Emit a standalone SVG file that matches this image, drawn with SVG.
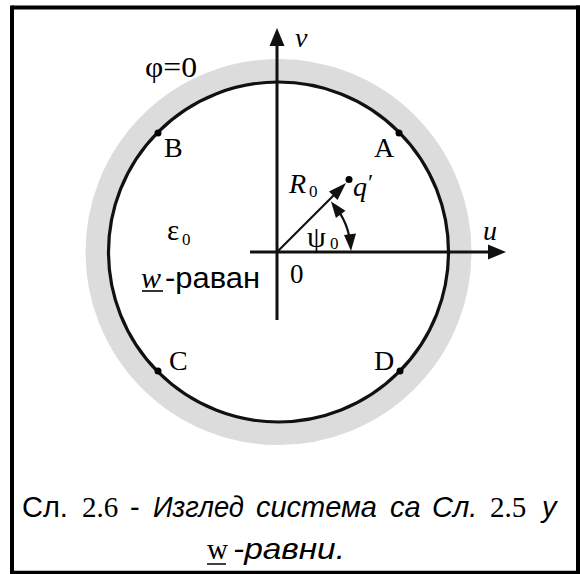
<svg xmlns="http://www.w3.org/2000/svg" width="580" height="574" viewBox="0 0 580 574">
<style>
.serif{font-family:"Liberation Serif","Times New Roman",serif;fill:#000}
.sans{font-family:"Liberation Sans",Arial,sans-serif;fill:#000}
.it{font-style:italic}
.ax{stroke:#111;stroke-width:3;fill:none}
.dot{fill:#000}
.lbl{font-size:28px}
</style>
<rect x="0" y="0" width="580" height="574" fill="#fff"/>
<g id="frame" fill="none" stroke="#000">
<line x1="12" y1="7.5" x2="580" y2="7.5" stroke-width="4"/>
<line x1="12" y1="5.5" x2="12" y2="574" stroke-width="4"/>
<line x1="578" y1="5.5" x2="578" y2="574" stroke-width="4"/>
<line x1="10" y1="572.5" x2="580" y2="572.5" stroke-width="3.5"/>
</g>
<g id="ring">
<circle cx="278.5" cy="252" r="181.5" fill="none" stroke="#dcdcdc" stroke-width="23"/>
<circle cx="278.5" cy="252" r="170" fill="none" stroke="#111" stroke-width="3.2"/>
</g>
<g id="connectors">
<line class="ax" x1="250" y1="252" x2="490" y2="252"/>
<polygon points="506,252 488,244.5 488,259.5" fill="#111"/>
<line class="ax" x1="277" y1="320" x2="277" y2="44"/>
<polygon points="277,28 269.5,46 284.5,46" fill="#111"/>
<line x1="277" y1="252" x2="336" y2="193" stroke="#111" stroke-width="2.2"/>
<polygon points="346,183 337.5,199.9 329,191.5" fill="#111"/>
<path d="M340.4,213.9 A74,74 0 0 1 349.1,235.4" fill="none" stroke="#111" stroke-width="2.2"/>
<polygon points="331,201.5 345.5,210.7 335.9,217.9" fill="#111"/>
<polygon points="351,251 356,233.5 344,235" fill="#111"/>
</g>
<g id="point-A"><circle class="dot" cx="399" cy="133" r="3.5"/><text class="serif lbl" x="374" y="157">A</text></g>
<g id="point-B"><circle class="dot" cx="158" cy="133" r="3.5"/><text class="serif lbl" x="164" y="157">B</text></g>
<g id="point-C"><circle class="dot" cx="158" cy="371" r="3.5"/><text class="serif lbl" x="169" y="370">C</text></g>
<g id="point-D"><circle class="dot" cx="400" cy="371" r="3.5"/><text class="serif lbl" x="374" y="370">D</text></g>
<g id="point-q"><circle class="dot" cx="349" cy="179.5" r="3.5"/><text class="serif it" x="353" y="196" font-size="28">q</text><text class="serif" x="368" y="190" font-size="24">′</text></g>
<g id="labels">
<text class="serif" x="145" y="77" font-size="30" textLength="52" lengthAdjust="spacingAndGlyphs">φ=0</text>
<text class="serif it" x="295" y="47" font-size="28">v</text>
<text class="serif it" x="483" y="240" font-size="28">u</text>
<text class="serif" x="290" y="283" font-size="27">0</text>
<text class="serif it" x="289" y="193" font-size="28">R</text>
<text class="serif" x="309" y="197" font-size="17">0</text>
<text class="serif" x="307" y="247" font-size="30">ψ</text>
<text class="serif" x="330" y="249" font-size="17">0</text>
<text class="serif" x="167" y="240" font-size="29">ε</text>
<text class="serif" x="182" y="245" font-size="17">0</text>
<text class="serif it" x="141" y="288" font-size="30">w</text>
<text class="sans" x="165" y="288" font-size="30" textLength="95" lengthAdjust="spacingAndGlyphs">-раван</text>
<line x1="142" y1="291" x2="163" y2="291" stroke="#000" stroke-width="1.6"/>
</g>
<g id="caption" font-size="29">
<text class="sans" x="22" y="517">Сл.</text>
<text class="serif" x="82" y="517">2.6</text>
<text class="sans" x="130" y="517">-</text>
<text class="sans it" x="153" y="517" textLength="91" lengthAdjust="spacingAndGlyphs">Изглед</text>
<text class="sans it" x="256" y="517" textLength="121" lengthAdjust="spacingAndGlyphs">система</text>
<text class="sans it" x="390" y="517">са</text>
<text class="sans it" x="432" y="517">Сл.</text>
<text class="serif" x="490" y="517">2.5</text>
<text class="sans it" x="542" y="517">у</text>
<text class="serif" x="207" y="559">w</text>
<text class="sans it" x="233" y="559" textLength="112" lengthAdjust="spacingAndGlyphs">-равни.</text>
<line x1="207" y1="564" x2="226" y2="564" stroke="#000" stroke-width="1.5"/>
</g>
</svg>
